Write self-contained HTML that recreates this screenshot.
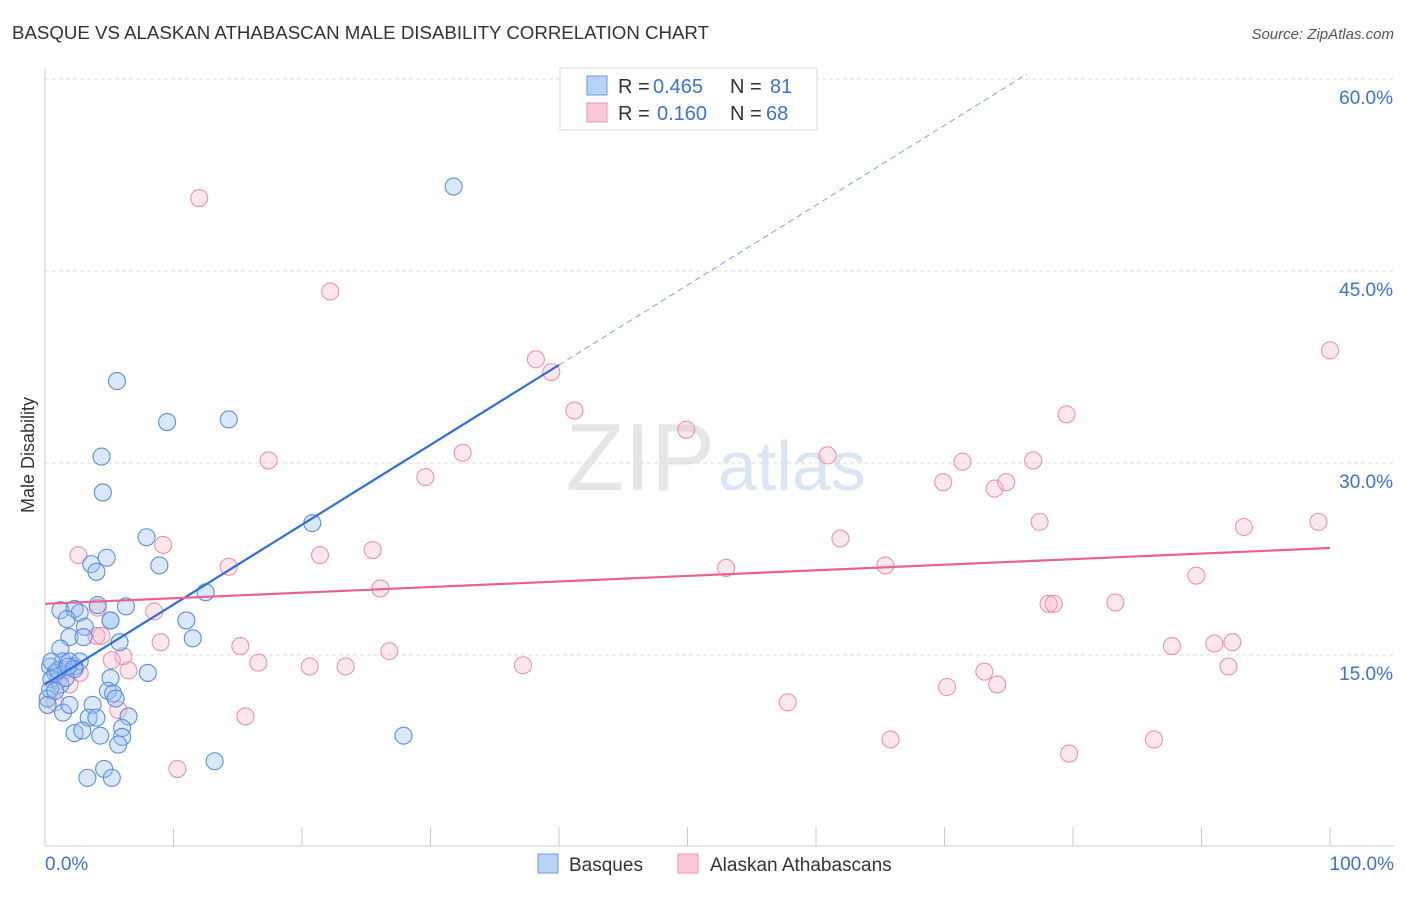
<!DOCTYPE html>
<html><head><meta charset="utf-8"><style>
body{margin:0;background:#fff;font-family:"Liberation Sans",sans-serif;}
svg text{font-family:"Liberation Sans",sans-serif;}
</style></head><body>
<svg id="chart" width="1406" height="892" xmlns="http://www.w3.org/2000/svg">
<text x="12" y="39" font-size="18" fill="#333" textLength="697" lengthAdjust="spacingAndGlyphs">BASQUE VS ALASKAN ATHABASCAN MALE DISABILITY CORRELATION CHART</text>
<text x="1394" y="39" font-size="15" fill="#555" text-anchor="end" font-style="italic">Source: ZipAtlas.com</text>
<text x="34" y="455" font-size="18" fill="#333" transform="rotate(-90 34 455)" text-anchor="middle">Male Disability</text>
<text x="715" y="490" font-size="96" fill="#e6e6e6" text-anchor="end" font-family="Liberation Serif">ZIP</text>
<text x="718" y="490" font-size="70" fill="#dbe6f5">atlas</text>
<g id="grid"></g><g id="pts"></g><g id="lines"></g>
<g>
<rect x="560" y="68" width="257" height="62" fill="#fff" stroke="#ddd"/>
<rect x="587" y="76" width="20" height="19" fill="#b8d3f5" stroke="#6a9be0"/>
<rect x="587" y="103" width="20" height="19" fill="#fac8d6" stroke="#ec93ad"/>
<text x="618" y="93" font-size="20" fill="#333">R =</text>
<text x="653" y="93" font-size="20" fill="#3a74d0">0.465</text>
<text x="730" y="93" font-size="20" fill="#333">N =</text>
<text x="770" y="93" font-size="20" fill="#3a74d0">81</text>
<text x="618" y="120" font-size="20" fill="#333">R =</text>
<text x="657" y="120" font-size="20" fill="#3a74d0">0.160</text>
<text x="730" y="120" font-size="20" fill="#333">N =</text>
<text x="766" y="120" font-size="20" fill="#3a74d0">68</text>
</g>
<g>
<rect x="538" y="854" width="20" height="19" fill="#b8d3f5" stroke="#6a9be0"/>
<text x="569" y="871" font-size="19" fill="#333">Basques</text>
<rect x="678" y="854" width="20" height="19" fill="#fac8d6" stroke="#ec93ad"/>
<text x="710" y="871" font-size="19" fill="#333">Alaskan Athabascans</text>
</g>
</svg>
<script>
const yTicks=[15,30,45,60];
const xTickLabels=["0.0%","100.0%"];
const blueX=[31.8,5.6,9.5,14.3,4.4,4.5,20.8,7.9,4.8,3.6,8.9,4.0,12.5,1.2,2.3,4.1,6.3,2.7,1.7,3.1,5.1,11.0,1.9,3.0,11.5,5.8,1.2,0.4,1.4,1.9,2.3,2.7,0.8,8.0,0.5,1.2,1.6,5.1,4.9,5.3,0.4,0.2,5.5,3.7,1.4,3.4,4.0,6.5,2.3,2.9,4.3,6.0,6.0,5.7,27.9,13.2,4.6,3.3,5.2,1.9,0.8,1.0,0.5,0.2,2.3,1.8,5.1];
const blueY=[51.6,36.4,33.2,33.4,30.5,27.7,25.3,24.2,22.6,22.1,22.0,21.5,19.9,18.5,18.6,18.9,18.8,18.3,17.8,17.2,17.7,17.7,16.4,16.4,16.3,16.0,15.5,14.1,14.5,14.5,14.1,14.5,13.6,13.6,13.1,12.7,13.2,13.2,12.2,12.0,12.3,11.6,11.6,11.1,10.5,10.1,10.1,10.2,8.9,9.1,8.7,9.3,8.6,8.0,8.7,6.7,6.1,5.4,5.4,11.1,12.2,13.8,14.5,11.1,13.9,14.1,17.7];
const pinkX=[12.0,22.2,38.2,39.4,41.2,49.9,32.5,60.9,17.4,29.6,71.4,76.9,79.5,69.9,73.9,74.8,100,99.1,93.3,77.4,61.9,2.6,9.2,21.4,25.5,14.3,53.0,65.4,89.6,26.1,8.5,78.1,78.5,83.3,4.1,9.0,15.2,4.0,92.4,87.7,91.0,26.8,6.1,5.2,16.6,20.6,23.4,37.2,92.1,6.5,73.1,74.1,70.2,5.7,15.6,57.8,65.8,79.7,86.3,10.3,1.6,1.9,2.7,1.0,0.8,4.4];
const pinkY=[50.7,43.4,38.1,37.1,34.1,32.6,30.8,30.6,30.2,28.9,30.1,30.2,33.8,28.5,28.0,28.5,38.8,25.4,25.0,25.4,24.1,22.8,23.6,22.8,23.2,21.9,21.8,22.0,21.2,20.2,18.4,19.0,19.0,19.1,18.7,16.0,15.7,16.5,16.0,15.7,15.9,15.3,14.9,14.6,14.4,14.1,14.1,14.2,14.1,13.8,13.7,12.7,12.5,10.7,10.2,11.3,8.4,7.3,8.4,6.1,13.8,12.7,13.6,13.0,11.3,16.5];
const blueFit=[12.7,0.624]; const pinkFit=[19.0,0.0436];
const X=v=>45+v*12.85, Y=v=>847-v*12.8;
const NS="http://www.w3.org/2000/svg";
function mk(t,a,p){const e=document.createElementNS(NS,t);for(const k in a)e.setAttribute(k,a[k]);p.appendChild(e);return e;}
const g=document.getElementById('grid');
yTicks.forEach(t=>{
 const l=mk('line',{x1:45,x2:1394,y1:Y(t),y2:Y(t),stroke:'#ddd','stroke-dasharray':'4 3'},g);
 
 
 const tx=mk('text',{x:1393,y:Y(t)+25,'font-size':19,fill:'#3a74d0','text-anchor':'end'},g);
 tx.textContent=t.toFixed(1)+'%';
 
 
});
const ax=mk('line',{x1:45,x2:45,y1:68,y2:846,stroke:'#ccc'},g);


const bx=mk('line',{x1:45,x2:1394,y1:846,y2:846,stroke:'#ccc'},g);


for(let i=1;i<=10;i++){const t=mk('line',{x1:X(i*10),x2:X(i*10),y1:827,y2:846,stroke:'#ccc'},g);
 
 }
[[0,45,'start'],[1,1394,'end']].forEach(([i,x,a])=>{const t=mk('text',{x:x,y:870,'font-size':19,fill:'#3a74d0','text-anchor':a},g);t.textContent=xTickLabels[i];
 
 });
const p=document.getElementById('pts');
pinkX.forEach((v,i)=>{const c=mk('circle',{cx:X(v),cy:Y(pinkY[i]),r:8.5,fill:'rgba(248,175,198,0.3)',stroke:'#ec93ad','stroke-width':1.1},p);
 
 });
blueX.forEach((v,i)=>{const c=mk('circle',{cx:X(v),cy:Y(blueY[i]),r:8.5,fill:'rgba(150,190,240,0.35)',stroke:'#5b8fdc','stroke-width':1.1},p);
 
 });
const L=document.getElementById('lines');
const xe=(60-blueFit[0])/blueFit[1];
const b1=mk('line',{x1:X(0),y1:Y(blueFit[0]),x2:X(40),y2:Y(blueFit[0]+40*blueFit[1]),stroke:'#2f6fd6','stroke-width':2.2},L);


const b2=mk('line',{x1:X(40),y1:Y(blueFit[0]+40*blueFit[1]),x2:X(xe+0.6),y2:Y(blueFit[0]+(xe+0.6)*blueFit[1]),stroke:'#7aa5e6','stroke-width':1,'stroke-dasharray':'6 4'},L);


const pl=mk('line',{x1:X(0),y1:Y(pinkFit[0]),x2:X(100),y2:Y(pinkFit[0]+100*pinkFit[1]),stroke:'#e8628e','stroke-width':2.2},L);


</script>
</body></html>
